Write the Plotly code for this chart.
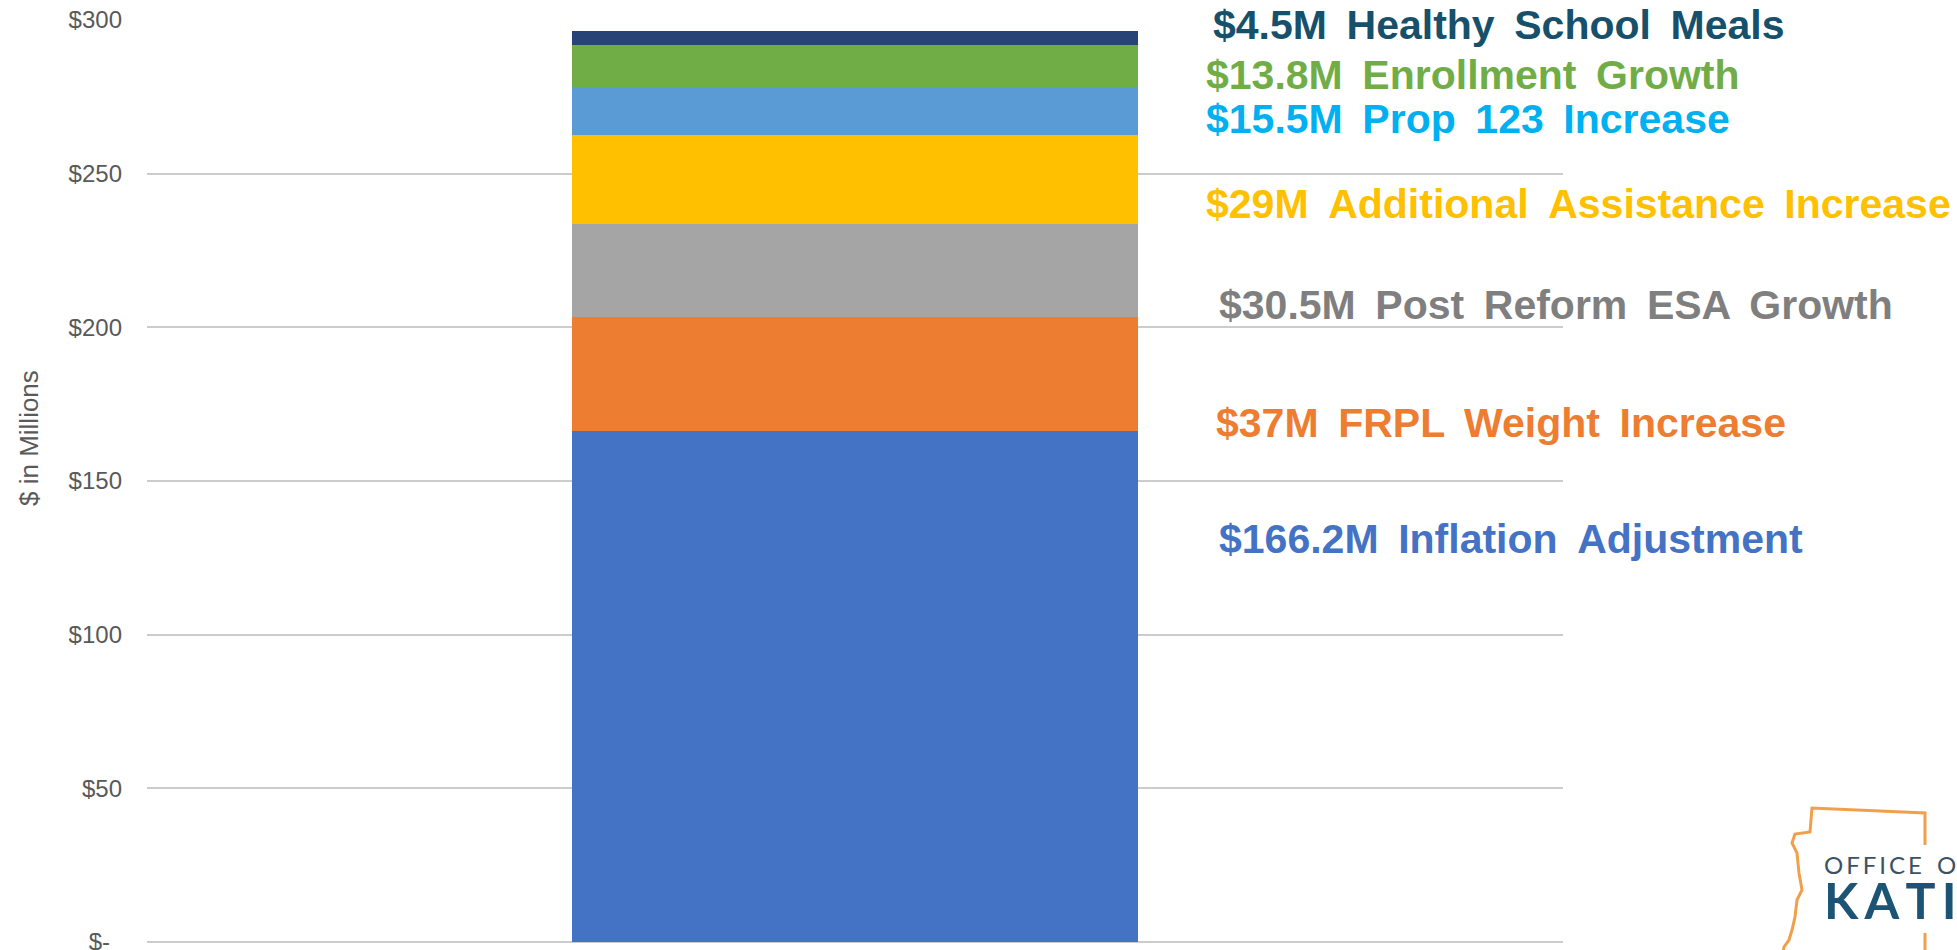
import plotly.graph_objects as go

# ---------------- data ----------------
categories = ["Increase"]
components = [
    "Inflation Adjustment",
    "FRPL Weight Increase",
    "Post Reform ESA Growth",
    "Additional Assistance Increase",
    "Prop 123 Increase",
    "Enrollment Growth",
    "Healthy School Meals",
]
amounts = [166.2, 37.0, 30.5, 29.0, 15.5, 13.8, 4.5]
amount_labels = ["$166.2M", "$37M", "$30.5M", "$29M", "$15.5M", "$13.8M", "$4.5M"]
tick_values = [0, 50, 100, 150, 200, 250, 300]
tick_labels = ["$-\u2002", "$50", "$100", "$150", "$200", "$250", "$300"]

# ---------------- styles ----------------
bar_colors = ["#4472C4", "#ED7D31", "#A5A5A5", "#FFC000", "#5B9BD5", "#70AD47", "#264478"]
label_colors = ["#4472C4", "#ED7D31", "#7F7F7F", "#FFC000", "#00B0F0", "#70AD47", "#17506B"]
# label anchor positions in page pixels (left edge x, vertical middle y)
label_pos = [(1217, 539), (1214, 423), (1217, 305), (1204, 204), (1204, 119), (1204, 75), (1211, 25)]

W, H = 1957, 950
L, R, T, B = 147, 394, 20, 5
FONT = "Liberation Sans, Arial, sans-serif"


def pxx(px):
    return (px - L) / (W - L - R)


def pxy(py):
    return (H - B - py) / (H - T - B)


fig = go.Figure()
for name, val, col in zip(components, amounts, bar_colors):
    fig.add_trace(go.Bar(
        x=categories, y=[val], name=name,
        marker=dict(color=col, line=dict(width=0)),
        width=0.4,
    ))

annotations = []
for lab, name, col, (px, py) in zip(amount_labels, components, label_colors, label_pos):
    text = (lab + " " + name).replace(" ", " \u2009")
    annotations.append(dict(
        text=text, x=pxx(px), y=pxy(py), xref="paper", yref="paper",
        xanchor="left", yanchor="middle", showarrow=False,
        font=dict(family=FONT, size=41, color=col, weight="bold"),
    ))

# y axis title
annotations.append(dict(
    text="$ in Millions", x=pxx(29), y=pxy(438), xref="paper", yref="paper",
    xanchor="center", yanchor="middle", showarrow=False, textangle=-90,
    font=dict(family=FONT, size=26, color="#595959"),
))

# logo text (partially cut off at page edge)
annotations.append(dict(
    text="O\u2009F\u2009F\u2009I\u2009C\u2009E\u2009\u2009\u2009 O\u2009F", x=pxx(1822), y=pxy(864),
    xref="paper", yref="paper", xanchor="left", yanchor="middle", showarrow=False,
    font=dict(family="Lato, sans-serif", size=24, color="#3B5262"),
))
annotations.append(dict(
    text="K\u200a\u200aA\u200a\u200aT\u200a\u200aI\u200a\u200aE", x=pxx(1822), y=pxy(900),
    xref="paper", yref="paper", xanchor="left", yanchor="middle", showarrow=False,
    font=dict(family="Lato, sans-serif", size=50, color="#1B5474", weight="bold"),
))


def path_from(points):
    return "M " + " L ".join(f"{pxx(x):.5f},{pxy(y):.5f}" for x, y in points)


outline_a = [(1925, 845), (1925, 813), (1812, 808), (1810, 832), (1795, 834), (1792, 843),
             (1797, 853), (1799, 873), (1802, 890), (1797, 900), (1795, 917), (1792, 930),
             (1789, 940), (1784, 947), (1782, 956)]
outline_b = [(1925, 933), (1925, 956)]
shapes = []
for pts in (outline_a, outline_b):
    shapes.append(dict(type="path", path=path_from(pts), xref="paper", yref="paper",
                       line=dict(color="#F0A04B", width=3)))

fig.update_layout(
    width=W, height=H,
    margin=dict(l=L, r=R, t=T, b=B, pad=0, autoexpand=False),
    barmode="stack",
    bargap=0,
    showlegend=False,
    plot_bgcolor="white",
    paper_bgcolor="white",
    annotations=annotations,
    shapes=shapes,
    xaxis=dict(showticklabels=False, showgrid=False, zeroline=False, showline=False,
               range=[-0.5, 0.5], automargin=False),
    yaxis=dict(range=[-1, 300], tickvals=tick_values, ticktext=tick_labels,
               showgrid=True, gridcolor="#CCCCCC", gridwidth=2, zeroline=False,
               showline=False, ticks="", ticklabelstandoff=24, ticklabeloverflow="allow",
               automargin=False,
               tickfont=dict(family=FONT, size=24, color="#595959")),
)

fig.write_html(
    "out.html",
    config={"displayModeBar": False},
    post_script="document.body.style.margin='0';document.body.style.overflow='hidden';",
)
